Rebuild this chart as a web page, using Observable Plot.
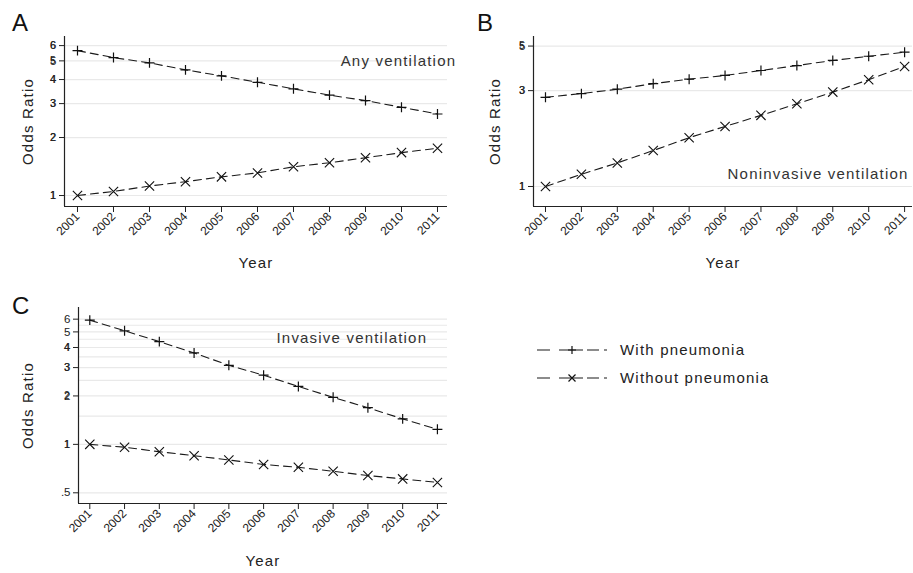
<!DOCTYPE html>
<html>
<head>
<meta charset="utf-8">
<script src="https://cdn.jsdelivr.net/npm/d3@7"></script>
<script src="https://cdn.jsdelivr.net/npm/@observablehq/plot@0.6"></script>
<style>
  html, body { margin: 0; padding: 0; background: #fff; }
  #wrap { position: relative; width: 913px; height: 573px; overflow: hidden; font-family: "Liberation Sans", Arial, sans-serif; color: #222; }
  #wrap svg.panel { position: absolute; overflow: visible; }
  .letter { position: absolute; font-size: 24px; line-height: 1; color: #111; }
  .leg { position: absolute; font-size: 15px; letter-spacing: 1.2px; color: #222; }
</style>
</head>
<body>
<div id="wrap"></div>
<script>
// ---- data ----
const years = [2001, 2002, 2003, 2004, 2005, 2006, 2007, 2008, 2009, 2010, 2011];
const seriesNames = ["With pneumonia", "Without pneumonia"];

const anyWith    = [5.65, 5.20, 4.88, 4.49, 4.18, 3.87, 3.58, 3.32, 3.11, 2.87, 2.65];
const anyWithout = [1.00, 1.05, 1.12, 1.18, 1.25, 1.31, 1.41, 1.48, 1.57, 1.67, 1.76];

const nivWith    = [2.78, 2.90, 3.05, 3.25, 3.42, 3.57, 3.78, 4.00, 4.24, 4.45, 4.66];
const nivWithout = [1.00, 1.15, 1.31, 1.51, 1.75, 1.99, 2.26, 2.58, 2.95, 3.40, 3.96];

const ivWith     = [5.92, 5.08, 4.35, 3.70, 3.10, 2.69, 2.29, 1.96, 1.69, 1.44, 1.24];
const ivWithout  = [1.00, 0.96, 0.90, 0.85, 0.80, 0.75, 0.72, 0.68, 0.64, 0.61, 0.58];

const ticksA = [1, 2, 3, 4, 5, 6];
const ticksB = [1, 3, 5];
const ticksC = [0.5, 1, 2, 3, 4, 5, 6];
const gridC  = [0.5, 1, 1.5, 2, 2.5, 3, 3.5, 4, 4.5, 5, 5.5, 6];

const titles = ["Any ventilation", "Noninvasive ventilation", "Invasive ventilation"];

// ---- helpers ----
const FONT = '"Liberation Sans", Arial, sans-serif';
const fmtY = d => d === 0.5 ? ".5" : String(d);

function rows(w, wo) {
  const out = [];
  years.forEach((yr, i) => {
    out.push({year: yr, value: w[i], series: "with"});
    out.push({year: yr, value: wo[i], series: "without"});
  });
  return out;
}

function panel(cfg) {
  const data = rows(cfg.w, cfg.wo);
  const svg = Plot.plot({
    width: cfg.width, height: cfg.height,
    marginLeft: cfg.ml, marginRight: cfg.mr, marginTop: cfg.mt, marginBottom: cfg.mb,
    style: {fontFamily: FONT, color: "#222", background: "transparent", overflow: "visible"},
    x: {domain: cfg.xd, axis: null},
    y: {type: "log", domain: cfg.yd, axis: null},
    marks: [
      Plot.ruleY(cfg.grid, {stroke: "#e9e9e9", strokeWidth: 1.2}),
      Plot.ruleX([cfg.xd[0]], {stroke: "#222", strokeWidth: 1.2}),
      Plot.ruleY([cfg.yd[0]], {stroke: "#222", strokeWidth: 1.2}),
      Plot.axisY(cfg.ticks, {tickSize: 5, tickFormat: null, label: null, stroke: "#222"}),
      Plot.text(cfg.ticks, {x: cfg.xd[0], y: d => d, text: fmtY, dx: -8,
        textAnchor: "end", fontSize: 11.5, fill: "#222"}),
      Plot.axisX(years, {tickRotate: -45, tickSize: 6, tickPadding: 2, fontSize: 12, label: null,
        tickFormat: d => String(d), stroke: "#222", fill: "#222"}),
      Plot.text(["Odds Ratio"], {frameAnchor: "left", dx: cfg.ylabDx, rotate: -90, text: d => d,
        fontSize: 15, fill: "#222", textAnchor: "middle"}),
      Plot.text(["Year"], {frameAnchor: "bottom", dy: cfg.xlabDy, text: d => d,
        fontSize: 15, fill: "#222", textAnchor: "middle"}),
      Plot.line(data, {x: "year", y: "value", z: "series", stroke: "#1a1a1a",
        strokeWidth: 1.1, strokeDasharray: "8,5"}),
      Plot.dot(data, {filter: d => d.series === "with", x: "year", y: "value",
        symbol: "plus", r: 3.3, stroke: "#111", strokeWidth: 1.2}),
      Plot.dot(data, {filter: d => d.series === "without", x: "year", y: "value",
        symbol: "times", r: 4.3, stroke: "#111", strokeWidth: 1.1}),
      Plot.text([cfg.title], {x: cfg.tx, y: cfg.ty, text: d => d, textAnchor: "start",
        fontSize: 15, fill: "#333"})
    ]
  });
  svg.classList.add("panel");
  svg.style.left = cfg.left + "px";
  svg.style.top = cfg.top + "px";
  svg.querySelectorAll("text").forEach(t => {
    const own = t.getAttribute("font-size") || (t.parentNode && t.parentNode.getAttribute && t.parentNode.getAttribute("font-size"));
    if (parseFloat(own) >= 15) t.setAttribute("letter-spacing", "1.2");
  });
  return svg;
}

const wrap = document.getElementById("wrap");

wrap.appendChild(panel({
  left: 0, top: 0, width: 460, height: 290, ml: 64, mr: 13, mt: 36, mb: 84,
  xd: [2000.639, 2011.278], yd: [0.877, 6.69],
  w: anyWith, wo: anyWithout, ticks: ticksA, grid: ticksA,
  ylabDx: -36, xlabDy: 61, title: titles[0], tx: 2008.31, ty: 5.0
}));

wrap.appendChild(panel({
  left: 460, top: 0, width: 453, height: 290, ml: 73, mr: 1, mt: 36, mb: 84,
  xd: [2000.666, 2011.22], yd: [0.795, 5.58],
  w: nivWith, wo: nivWithout, ticks: ticksB, grid: ticksB,
  ylabDx: -38, xlabDy: 61, title: titles[1], tx: 2006.07, ty: 1.15
}));

wrap.appendChild(panel({
  left: 0, top: 290, width: 460, height: 283, ml: 78, mr: 13, mt: 17, mb: 70,
  xd: [2000.675, 2011.29], yd: [0.429, 7.09],
  w: ivWith, wo: ivWithout, ticks: ticksC, grid: gridC,
  ylabDx: -50, xlabDy: 62, title: titles[2], tx: 2006.37, ty: 4.6
}));

// panel letters
[["A", 12, 11], ["B", 477, 11], ["C", 12, 294]].forEach(([t, x, y]) => {
  const d = document.createElement("div");
  d.className = "letter"; d.textContent = t;
  d.style.left = x + "px"; d.style.top = y + "px";
  wrap.appendChild(d);
});

// legend
const NS = "http://www.w3.org/2000/svg";
const legSvg = document.createElementNS(NS, "svg");
legSvg.setAttribute("width", 80); legSvg.setAttribute("height", 50);
legSvg.style.position = "absolute"; legSvg.style.left = "532px"; legSvg.style.top = "336px";
seriesNames.forEach((name, i) => {
  const cy = 14 + i * 28;
  const ln = document.createElementNS(NS, "line");
  ln.setAttribute("x1", 5); ln.setAttribute("x2", 75);
  ln.setAttribute("y1", cy); ln.setAttribute("y2", cy);
  ln.setAttribute("stroke", "#1a1a1a"); ln.setAttribute("stroke-width", 1.2);
  ln.setAttribute("stroke-dasharray", "13,9,24,4,12,5,3,100");
  legSvg.appendChild(ln);
  const p = document.createElementNS(NS, "path");
  const cx = 40;
  p.setAttribute("d", i === 0
    ? `M${cx - 4},${cy}H${cx + 4}M${cx},${cy - 4}V${cy + 4}`
    : `M${cx - 3.5},${cy - 3.5}L${cx + 3.5},${cy + 3.5}M${cx - 3.5},${cy + 3.5}L${cx + 3.5},${cy - 3.5}`);
  p.setAttribute("stroke", "#111"); p.setAttribute("stroke-width", 1.2); p.setAttribute("fill", "none");
  legSvg.appendChild(p);
  const t = document.createElement("div");
  t.className = "leg"; t.textContent = name;
  t.style.left = "620px"; t.style.top = (cy + 336 - 9) + "px";
  wrap.appendChild(t);
});
wrap.appendChild(legSvg);
</script>
</body>
</html>
